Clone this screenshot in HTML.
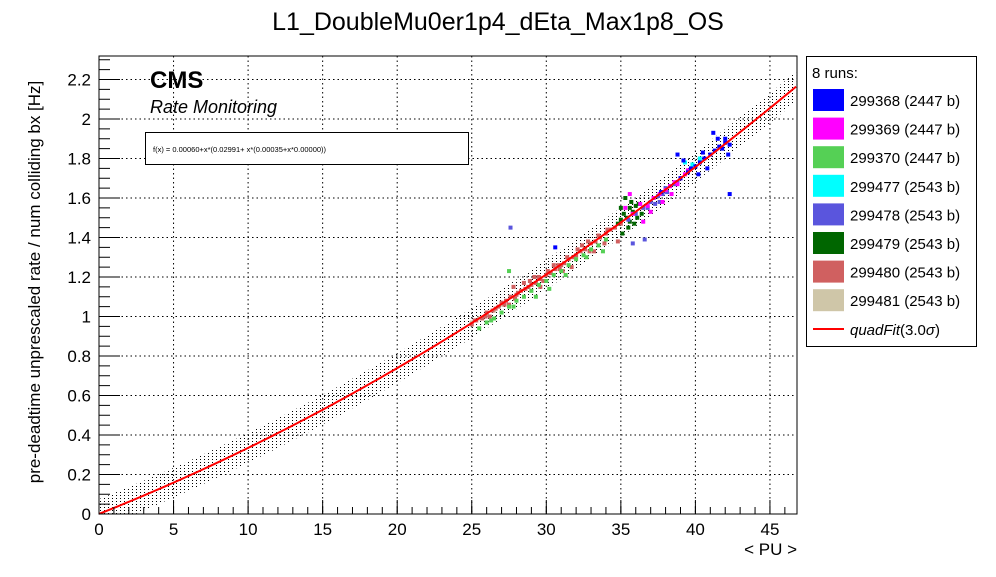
<!DOCTYPE html>
<html><head><meta charset="utf-8"><style>
body{margin:0;background:#fff;font-family:"Liberation Sans",sans-serif;}
svg text{font-family:"Liberation Sans",sans-serif;}
</style></head><body>
<svg id="c" width="996" height="572" xmlns="http://www.w3.org/2000/svg">
<defs><pattern id="dots" width="4" height="3" patternUnits="userSpaceOnUse"><rect x="0" y="0" width="1" height="1" fill="#000"/></pattern></defs>
<rect width="996" height="572" fill="#fff"/>
<text x="498" y="30" text-anchor="middle" font-size="25">L1_DoubleMu0er1p4_dEta_Max1p8_OS</text>
<g id="grid"></g><g id="band"></g><g id="pts"></g><g id="fit"></g><g id="axes"></g>
<rect x="99" y="56" width="698" height="458" fill="none" stroke="#000" stroke-width="1"/>
<text x="150" y="88" font-size="24" font-weight="bold">CMS</text>
<text x="150" y="113" font-size="18" font-style="italic">Rate Monitoring</text>
<rect x="145.5" y="132.5" width="323" height="32" fill="#fff" stroke="#000"/>
<text x="153" y="152" font-size="7.5">f(x) = 0.00060+x*(0.02991+ x*(0.00035+x*0.00000))</text>
<text transform="translate(40,282) rotate(-90)" text-anchor="middle" font-size="17">pre-deadtime unprescaled rate / num colliding bx [Hz]</text>
<text x="797" y="555" text-anchor="end" font-size="17">&lt; PU &gt;</text>
<g id="legend"><rect x="806.5" y="56.5" width="170" height="290" fill="#fff" stroke="#000"/><text x="812" y="78" font-size="15">8 runs:</text></g>
</svg>
<script>
const fitCoef=[0.00060,0.02991,0.00035,0.0];
const bandHalf=0.075;
const xTicks=[0,5,10,15,20,25,30,35,40,45];
const yTicks=[0,0.2,0.4,0.6,0.8,1,1.2,1.4,1.6,1.8,2,2.2];
const runNames=["299368 (2447 b)","299369 (2447 b)","299370 (2447 b)","299477 (2543 b)","299478 (2543 b)","299479 (2543 b)","299480 (2543 b)","299481 (2543 b)"];
const runColors=["#0000ff","#ff00ff","#55d055","#00ffff","#5a55dd","#006600","#d06060","#cfc6a8"];
const r481x=[25,25.5,26,26.5,27];
const r481y=[0.97,0.99,1.01,1.03,1.06];
const r480x=[25,25.3,25.7,26,26.4,26.8,27,27.3,27.6,28,28.3,28.6,29,29.3,29.6,30,30.3,30.6,31,31.2,31.5,31.8,32,32.3,32.6,33,33.3,33.6,34,34.3,34.6,35,27.8,28.5,29.2,30.5,31.7,33.2,34.8,26.2,27.5,29.8,25.2,25.9,26.6,27.2,28.1,28.8,29.5,30.1,30.8,31.4,32.1,32.8,33.5,34.1,28.9,30.9,32.4,33.9,27.9,29.6,31.1,32.9];
const r480y=[0.96,0.98,0.99,1.02,1.03,1.05,1.07,1.08,1.1,1.11,1.13,1.14,1.16,1.17,1.19,1.21,1.22,1.24,1.26,1.27,1.29,1.3,1.31,1.33,1.34,1.37,1.38,1.4,1.42,1.44,1.45,1.47,1.15,1.17,1.2,1.26,1.25,1.33,1.38,1.0,1.06,1.18,0.98,1.0,1.04,1.06,1.12,1.15,1.2,1.23,1.26,1.3,1.34,1.38,1.41,1.44,1.18,1.24,1.36,1.37,1.09,1.15,1.23,1.33];
const r370x=[25.5,26,26.5,27,27.5,28,28.5,29,29.5,30,30.5,31,31.5,32,32.5,33,33.5,34,27.5,30.2,33.8,26.3,27.8,29.3,31.3,32.7];
const r370y=[0.94,0.97,0.99,1.02,1.05,1.08,1.1,1.13,1.16,1.18,1.21,1.23,1.26,1.29,1.31,1.34,1.36,1.39,1.23,1.14,1.33,0.98,1.05,1.1,1.21,1.3];
const r479x=[34.8,35,35.2,35.4,35.6,35.8,36,36.2,35.1,35.5,35.9,36.4,35.3,35.7,35.0,35.6,36.1];
const r479y=[1.47,1.49,1.52,1.5,1.55,1.53,1.56,1.57,1.42,1.45,1.47,1.52,1.6,1.58,1.55,1.48,1.5];
const r478x=[35.5,36,36.5,37,37.2,37.5,37.8,38,38.3,38.6,39,36.8,37.6,38.8,27.6,36.6,35.8,37.3,38.1];
const r478y=[1.49,1.52,1.55,1.58,1.6,1.61,1.62,1.65,1.66,1.67,1.7,1.55,1.58,1.68,1.45,1.39,1.37,1.57,1.63];
const r369x=[35.3,35.8,36.3,36.8,37.2,37.6,38,38.3,38.6,39,39.3,39.5,36.5,37.8,38.8,35.6,37.0,38.4];
const r369y=[1.55,1.52,1.57,1.56,1.6,1.62,1.64,1.66,1.68,1.7,1.72,1.74,1.48,1.58,1.67,1.62,1.53,1.62];
const r477x=[39.3,40.3,39.8];
const r477y=[1.78,1.8,1.77];
const r368x=[39,39.5,40,40.3,40.6,41,41.3,41.6,42,42.3,40.8,41.5,42.2,41.2,40.2,39.2,38.8,42.3,37.7,30.6,41.8,40.5,39.7,42.0];
const r368y=[1.7,1.73,1.76,1.78,1.8,1.82,1.84,1.86,1.88,1.87,1.75,1.9,1.82,1.93,1.72,1.79,1.82,1.62,1.63,1.35,1.85,1.83,1.75,1.9];
const X0=99,XS=14.91,Y0=514,YS=197.5;
const sx=v=>X0+v*XS, sy=v=>Y0-v*YS;
const f=x=>fitCoef[0]+x*(fitCoef[1]+x*(fitCoef[2]+x*fitCoef[3]));
const NS="http://www.w3.org/2000/svg";
function mk(t,a,p){const e=document.createElementNS(NS,t);for(const k in a)e.setAttribute(k,a[k]);p.appendChild(e);return e;}
const grid=document.getElementById('grid'),axes=document.getElementById('axes');
xTicks.forEach(v=>{if(v>0){const l=mk('line',{x1:sx(v),x2:sx(v),y1:56,y2:514,stroke:'#000','stroke-dasharray':'1.5,3'},grid);

}
const t=mk('text',{x:sx(v),y:535,'text-anchor':'middle','font-size':'17'},axes);t.textContent=v;


mk('line',{x1:sx(v),x2:sx(v),y1:514,y2:500,stroke:'#000'},axes);});
for(let v=1;v<=46;v++)mk('line',{x1:sx(v),x2:sx(v),y1:514,y2:507,stroke:'#000'},axes);
yTicks.forEach(v=>{if(v>0){const l=mk('line',{x1:99,x2:797,y1:sy(v),y2:sy(v),stroke:'#000','stroke-dasharray':'1.5,3'},grid);

}
const t=mk('text',{x:91,y:sy(v)+6,'text-anchor':'end','font-size':'17'},axes);t.textContent=v;


mk('line',{x1:99,x2:120,y1:sy(v),y2:sy(v),stroke:'#000'},axes);});
for(let v=0.05;v<2.32;v+=0.05)mk('line',{x1:99,x2:110,y1:sy(v),y2:sy(v),stroke:'#000'},axes);
let up=[],dn=[],ln=[];
for(let x=0;x<=46.85;x+=0.25){up.push(sx(x)+','+sy(f(x)+bandHalf));dn.unshift(sx(x)+','+sy(Math.max(0,f(x)-bandHalf)));ln.push(sx(x)+','+sy(f(x)));}
const band=mk('polygon',{points:up.concat(dn).join(' '),fill:'url(#dots)'},document.getElementById('band'));


const fl=mk('polyline',{points:ln.join(' '),fill:'none',stroke:'#f00','stroke-width':2},document.getElementById('fit'));


const series=[[r481x,r481y,7],[r480x,r480y,6],[r370x,r370y,2],[r479x,r479y,5],[r478x,r478y,4],[r369x,r369y,1],[r477x,r477y,3],[r368x,r368y,0]];
const pts=document.getElementById('pts');
series.forEach(([xs,ys,ci])=>{xs.forEach((x,i)=>{const r=mk('rect',{x:sx(x)-2,y:sy(ys[i])-2,width:4,height:4,fill:runColors[ci]},pts);

});});
const lg=document.getElementById('legend');
runNames.forEach((n,i)=>{const y=100+i*28.6;
const s=mk('rect',{x:813,y:y-11,width:31,height:22,fill:runColors[i]},lg);


const t=mk('text',{x:850,y:y+6,'font-size':'15'},lg);t.textContent=n;

});
mk('line',{x1:813,x2:844,y1:329,y2:329,stroke:'#f00','stroke-width':2},lg);
const ft=mk('text',{x:850,y:335,'font-size':'15'},lg);ft.innerHTML='<tspan font-style="italic">quadFit</tspan>(3.0<tspan font-style="italic">σ</tspan>)';


</script>
</body></html>
